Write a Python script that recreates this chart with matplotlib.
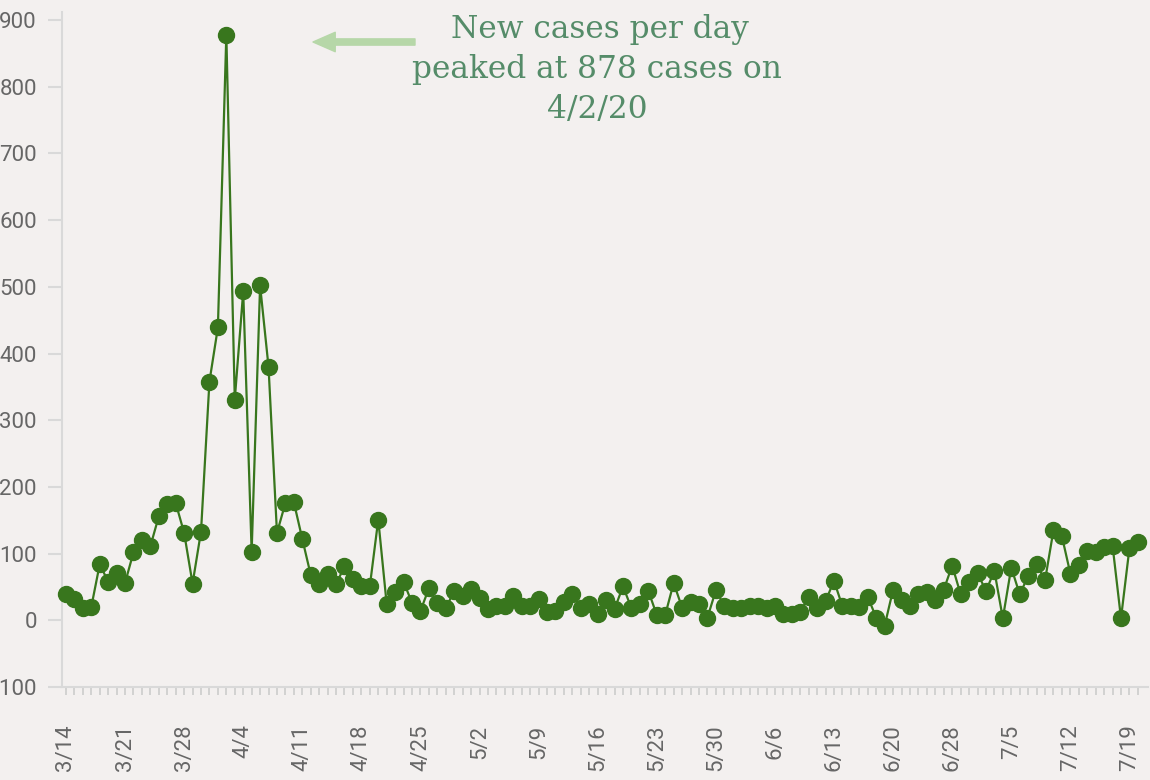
import matplotlib
matplotlib.use("Agg")
import matplotlib.pyplot as plt
import pandas as pd

plt.rcParams["axes.unicode_minus"] = False

# ---- data ----
dates = [d for d in pd.date_range("2020-03-14", "2020-07-20") if d != pd.Timestamp("2020-06-24")]
categories = [f"{d.month}/{d.day}" for d in dates]
new_cases = [39, 32, 18, 20, 84, 58, 71, 56, 102, 120, 111, 156, 174, 176, 131, 55,
             133, 358, 439, 878, 331, 493, 103, 502, 380, 131, 176, 177, 122, 68, 54, 70,
             54, 81, 62, 51, 51, 151, 24, 43, 58, 26, 14, 48, 26, 18, 44, 36,
             47, 33, 17, 22, 21, 36, 21, 21, 32, 12, 14, 28, 39, 19, 24, 9,
             31, 17, 51, 18, 24, 44, 8, 8, 56, 19, 28, 25, 4, 45, 22, 18,
             19, 21, 21, 18, 21, 10, 9, 13, 35, 18, 29, 59, 21, 21, 20, 35,
             4, -8, 46, 30, 21, 39, 43, 30, 46, 82, 39, 58, 71, 44, 74, 3,
             79, 39, 66, 84, 60, 135, 126, 70, 83, 104, 103, 110, 112, 3, 108, 118]
y_ticks = [-100, 0, 100, 200, 300, 400, 500, 600, 700, 800, 900]
label_every = 7
annotation_lines = ["New cases per day", "peaked at 878 cases on", "4/2/20"]

BG = "#f3f0ef"
GREEN = "#38761d"
GRAY_TXT = "#666666"
AXIS = "#d9d9d9"

W, H = 1150, 780
fig = plt.figure(figsize=(W / 100, H / 100), dpi=100, facecolor=BG)
ax = fig.add_axes([62 / W, 93 / H, (1148 - 62) / W, (687 - 12) / H], facecolor=BG)

x = list(range(len(new_cases)))
ax.plot(x, new_cases, color=GREEN, lw=1.6, marker="o", markersize=11.5,
        markerfacecolor=GREEN, markeredgecolor=GREEN, clip_on=False, zorder=3)

ax.set_xlim(-0.47, 128.2)
ax.set_ylim(-100, 912)

for s in ["top", "right"]:
    ax.spines[s].set_visible(False)
for s in ["left", "bottom"]:
    ax.spines[s].set_color(AXIS)
    ax.spines[s].set_linewidth(1.5)

ax.set_yticks(y_ticks)
ax.set_yticklabels([str(v) for v in y_ticks])
ax.tick_params(axis="y", length=10, width=1.5, color=AXIS, pad=8,
               labelsize=16, labelcolor=GRAY_TXT)

major = list(range(0, len(categories), label_every))
ax.set_xticks(major)
ax.set_xticklabels([categories[i] for i in major], rotation=90, va="top", ha="center")
ax.set_xticks(x, minor=True)
ax.tick_params(axis="x", which="both", length=6, width=1.2, color="#cccccc",
               labelsize=16, labelcolor=GRAY_TXT, pad=21)

for t in ax.get_xticklabels() + ax.get_yticklabels():
    t.set_fontfamily("Roboto")

# annotation
centers = [600, 597, 597]
baselines = [38, 78, 118]
for txt, cx, by in zip(annotation_lines, centers, baselines):
    fig.text(cx / W, 1 - by / H, txt, ha="center", va="baseline",
             fontfamily="DejaVu Serif", fontsize=22.5, color="#558c69")

ax.annotate("", xy=(313 / W, 1 - 42 / H), xytext=(415 / W, 1 - 42 / H),
            xycoords="figure fraction", textcoords="figure fraction",
            arrowprops=dict(arrowstyle="simple,head_length=1.6,head_width=1.4,tail_width=0.45",
                            color="#b6d7a8", shrinkA=0, shrinkB=0, mutation_scale=10))

fig.savefig("out.png", dpi=100, facecolor=BG)
